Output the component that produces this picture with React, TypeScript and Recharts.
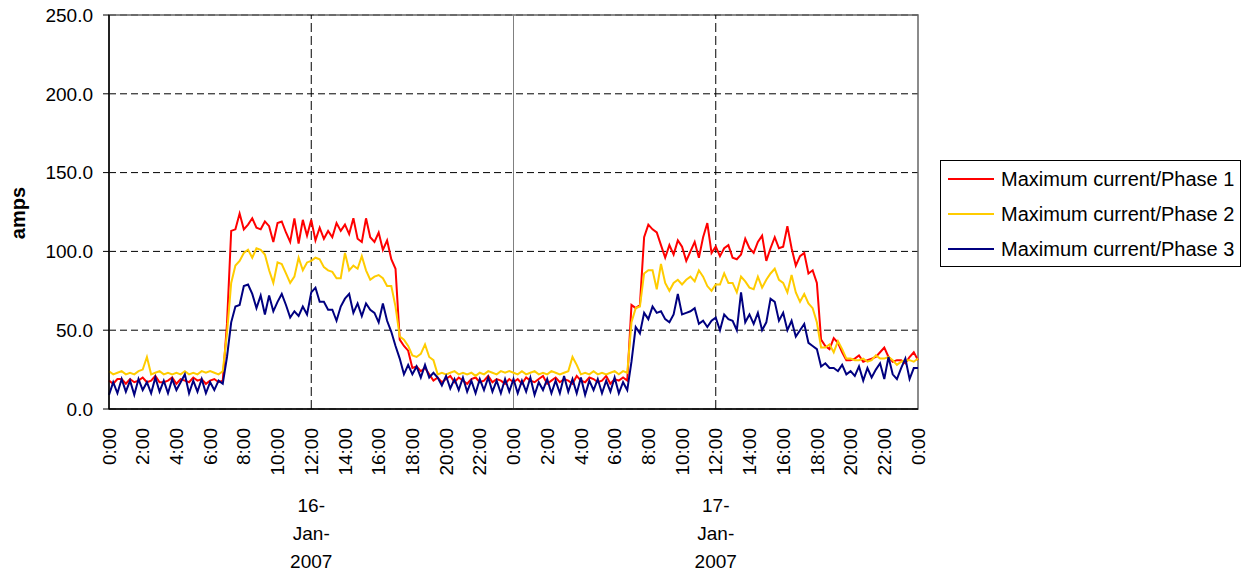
import React from 'react';
import { LineChart, Line, XAxis, YAxis, CartesianGrid, ReferenceLine, ReferenceArea } from 'recharts';

// 15-minute maximum current readings, 16-Jan-2007 00:00 to 18-Jan-2007 00:00 (amps)
const phase1 = [
  // 16-Jan
  18, 16, 19, 19, 16, 19, 17, 18, 20, 17, 18, 21, 17, 17, 18, 20,
  16, 19, 18, 17, 20, 18, 19, 16, 18, 19, 17, 18, 54, 113, 114, 124,
  114, 117, 121, 115, 114, 119, 116, 106, 118, 119, 112, 106, 121, 105, 120, 110,
  120, 107, 115, 108, 113, 109, 118, 113, 117, 111, 121, 108, 106, 121, 109, 106,
  112, 101, 107, 95, 89, 44, 40, 37, 26, 27, 24, 26, 22, 18, 20, 17,
  19, 21, 17, 20, 18, 16, 19, 20, 17, 18, 21, 17, 19, 18, 16, 19,
  // 17-Jan
  17, 19, 16, 20, 18, 17, 19, 21, 16, 18, 20, 17, 19, 18, 16, 21,
  18, 17, 20, 19, 17, 18, 21, 16, 19, 18, 20, 18, 66, 64, 66, 109,
  117, 114, 112, 104, 96, 104, 98, 107, 103, 94, 100, 106, 96, 109, 118, 99,
  103, 97, 102, 104, 96, 95, 98, 108, 102, 99, 106, 110, 94, 102, 109, 102,
  103, 116, 102, 91, 97, 99, 86, 88, 80, 44, 40, 38, 45, 42, 36, 31,
  31, 32, 34, 30, 31, 32, 33, 36, 39, 33, 30, 31, 31, 29, 33, 36,
  31,
];

const phase2 = [
  // 16-Jan
  24, 22, 23, 24, 22, 23, 22, 24, 25, 33, 22, 23, 24, 22, 23, 22,
  23, 22, 24, 22, 23, 22, 24, 23, 24, 23, 22, 24, 48, 80, 91, 94,
  99, 101, 96, 102, 101, 98, 88, 80, 93, 92, 86, 80, 84, 96, 88, 93,
  94, 96, 95, 90, 88, 87, 83, 83, 99, 88, 91, 89, 97, 88, 82, 84,
  85, 83, 78, 78, 65, 46, 44, 40, 34, 33, 35, 41, 33, 31, 22, 23,
  22, 23, 24, 22, 23, 22, 23, 21, 23, 22, 24, 23, 22, 24, 23, 24,
  // 17-Jan
  23, 22, 24, 22, 23, 24, 22, 23, 22, 24, 23, 22, 23, 24, 33, 28,
  22, 23, 22, 24, 22, 23, 22, 23, 24, 22, 24, 23, 55, 64, 65, 86,
  88, 88, 76, 92, 80, 75, 80, 82, 79, 82, 84, 81, 88, 84, 78, 75,
  79, 79, 86, 80, 80, 74, 84, 81, 77, 76, 84, 77, 82, 86, 89, 82,
  80, 74, 85, 74, 68, 73, 67, 64, 55, 39, 39, 41, 36, 43, 38, 32,
  32, 31, 31, 32, 30, 31, 34, 32, 32, 33, 31, 28, 30, 31, 31, 30,
  32,
];

const phase3 = [
  // 16-Jan
  9, 17, 10, 19, 11, 18, 9, 19, 12, 17, 10, 20, 11, 18, 10, 19,
  12, 17, 22, 10, 18, 11, 19, 10, 17, 12, 18, 16, 33, 55, 65, 66,
  78, 79, 73, 64, 72, 60, 72, 62, 68, 73, 66, 58, 62, 59, 65, 60,
  74, 77, 68, 68, 63, 63, 56, 65, 70, 73, 61, 67, 59, 67, 63, 61,
  55, 67, 56, 49, 40, 32, 22, 28, 22, 27, 20, 28, 20, 23, 20, 15,
  21, 13, 19, 12, 20, 11, 18, 10, 19, 12, 20, 11, 18, 10, 19, 11,
  // 17-Jan
  19, 10, 18, 11, 20, 9, 17, 12, 19, 10, 18, 10, 21, 11, 19, 10,
  20, 9, 18, 12, 19, 10, 18, 11, 20, 10, 17, 12, 30, 52, 48, 61,
  57, 65, 61, 62, 57, 55, 60, 73, 60, 61, 62, 64, 54, 56, 52, 56,
  58, 50, 60, 57, 56, 50, 74, 55, 60, 54, 61, 50, 55, 70, 68, 56,
  61, 50, 56, 46, 50, 54, 42, 40, 38, 27, 29, 26, 26, 24, 28, 22,
  24, 21, 27, 18, 26, 20, 25, 29, 19, 33, 22, 19, 26, 32, 19, 26,
  26,
];

const hourTicks = [0, 2, 4, 6, 8, 10, 12, 14, 16, 18, 20, 22, 24, 26, 28, 30, 32, 34, 36, 38, 40, 42, 44, 46, 48];
const ampTicks = [0, 50, 100, 150, 200, 250];
const dayLabels = [
  { at: 12, lines: ['16-', 'Jan-', '2007'] },
  { at: 36, lines: ['17-', 'Jan-', '2007'] },
];

const series = [
  { key: 'p1', name: 'Maximum current/Phase 1', color: '#FF0000' },
  { key: 'p2', name: 'Maximum current/Phase 2', color: '#FFCC00' },
  { key: 'p3', name: 'Maximum current/Phase 3', color: '#000080' },
];

const data = phase1.map((v, i) => ({ t: i / 4, p1: v, p2: phase2[i], p3: phase3[i] }));

const FONT = '"Liberation Sans", Arial, Helvetica, sans-serif';

function HourTick(props: any) {
  const { x, y, payload } = props;
  const h = payload.value as number;
  const day = dayLabels.find(d => d.at === h);
  return (
    <g>
      <text
        x={x}
        y={y}
        transform={`rotate(-90 ${x} ${y})`}
        textAnchor="end"
        dy="0.35em"
        fontSize={19}
        fill="#000"
        fontFamily={FONT}
      >
        {`${h % 24}:00`}
      </text>
      {day &&
        day.lines.map((line, k) => (
          <text key={k} x={x} y={y + 84 + k * 28} textAnchor="middle" fontSize={19} fill="#000" fontFamily={FONT}>
            {line}
          </text>
        ))}
    </g>
  );
}

function LegendBox() {
  return (
    <div
      style={{
        position: 'absolute',
        left: 940,
        top: 160,
        width: 301,
        height: 107,
        border: '1px solid #000',
        boxSizing: 'border-box',
        background: '#fff',
        fontFamily: FONT,
        fontSize: 20,
        color: '#000',
      }}
    >
      {series.map((s, i) => (
        <div
          key={s.key}
          style={{ position: 'absolute', left: 0, top: 6 + i * 35, height: 24, display: 'flex', alignItems: 'center' }}
        >
          <div style={{ marginLeft: 7, width: 46, height: 2, background: s.color }} />
          <span style={{ marginLeft: 7, whiteSpace: 'nowrap' }}>{s.name}</span>
        </div>
      ))}
    </div>
  );
}

export default function App() {
  return (
    <div style={{ position: 'absolute', left: 0, top: 0, width: 1249, height: 578, background: '#fff', fontFamily: FONT }}>
      <LineChart width={1249} height={578} data={data} margin={{ top: 15, right: 331, bottom: 0, left: 0 }}>
        <CartesianGrid vertical={false} stroke="#000" strokeDasharray="7 4" />
        <ReferenceArea x1={0} x2={48} y1={0} y2={250} fill="none" stroke="#666" strokeWidth={1.5} />
        <ReferenceLine x={12} stroke="#000" strokeDasharray="9 4" />
        <ReferenceLine x={24} stroke="#808080" />
        <ReferenceLine x={36} stroke="#000" strokeDasharray="9 4" />
        <XAxis
          type="number"
          dataKey="t"
          domain={[0, 48]}
          ticks={hourTicks}
          interval={0}
          height={169}
          tickLine={false}
          tickSize={6}
          tickMargin={13}
          axisLine={{ stroke: '#000', strokeWidth: 1.5 }}
          tick={<HourTick />}
        />
        <YAxis
          domain={[0, 250]}
          ticks={ampTicks}
          interval={0}
          width={109}
          tickSize={6}
          tickMargin={10}
          tickFormatter={(v: number) => v.toFixed(1)}
          tick={{ fontSize: 19, fill: '#000', fontFamily: FONT }}
          tickLine={{ stroke: '#000' }}
          axisLine={{ stroke: '#000', strokeWidth: 1.5 }}
          label={{
            content: () => (
              <text
                x={18}
                y={213}
                transform="rotate(-90 18 213)"
                textAnchor="middle"
                dy="0.35em"
                fontSize={20}
                fontWeight="bold"
                fill="#000"
                fontFamily={FONT}
              >
                amps
              </text>
            ),
          }}
        />
        {series.map(s => (
          <Line
            key={s.key}
            type="linear"
            dataKey={s.key}
            name={s.name}
            stroke={s.color}
            strokeWidth={2}
            dot={false}
            isAnimationActive={false}
          />
        ))}
      </LineChart>
      <LegendBox />
    </div>
  );
}
